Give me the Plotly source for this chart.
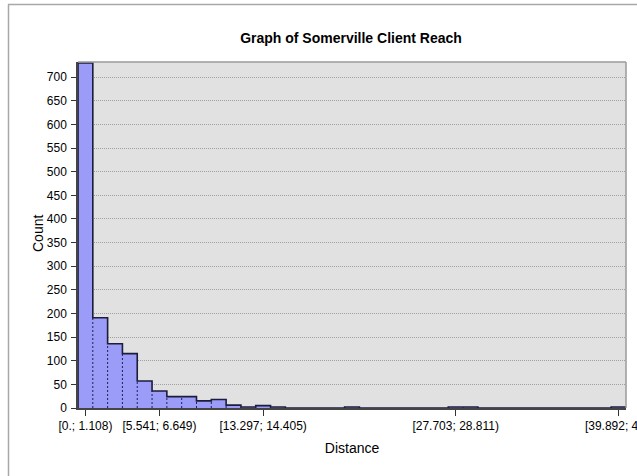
import plotly.graph_objects as go

# ---- data ----
bin_width = 1.1081
counts = [730, 191, 136, 115, 57, 36, 24, 24, 15, 18, 6, 2, 5, 2, 0, 0, 0, 0, 2,
          0, 0, 0, 0, 0, 0, 2, 2, 0, 0, 0, 0, 0, 0, 0, 0, 0, 2]
tick_bins = [0, 5, 12, 25, 36]
tick_labels = ["[0.; 1.108)", "[5.541; 6.649)", "[13.297; 14.405)",
               "[27.703; 28.811)", "[39.892; 41.)"]
title_text = "Graph of Somerville Client Reach"
x_title = "Distance"
y_title = "Count"

n = len(counts)
edges = [i * bin_width for i in range(n + 1)]
centers = [(edges[i] + edges[i + 1]) / 2 for i in range(n)]

# layout geometry (pixels)
W, H = 637, 476
L, R, T, B = 78, 11, 62, 68
pw, ph = W - L - R, H - T - B

def px2paper_x(x):
    return (x - L) / pw

def px2paper_y(y):
    return (H - B - y) / ph

FONT = "Liberation Sans Narrow, Arial Narrow, Liberation Sans, Arial, sans-serif"

fig = go.Figure()

fig.add_trace(go.Bar(
    x=centers, y=counts, width=bin_width,
    marker=dict(color="#9b9bf8", line=dict(width=0)),
    hoverinfo="x+y", showlegend=False,
))

# dotted internal separators
sx, sy = [], []
for i in range(1, n):
    h = min(counts[i - 1], counts[i])
    if h > 0:
        sx += [edges[i], edges[i], None]
        sy += [0, h, None]
fig.add_trace(go.Scatter(
    x=sx, y=sy, mode="lines",
    line=dict(color="#202050", width=1, dash="2px,2px"),
    hoverinfo="skip", showlegend=False,
))

# step outline
ox = [edges[0]] + edges[:n] + [edges[n]]
oy = [0] + counts + [0]
fig.add_trace(go.Scatter(
    x=ox, y=oy, mode="lines",
    line=dict(color="#1c1c3c", width=1.6, shape="hv"),
    hoverinfo="skip", showlegend=False,
))

fig.update_layout(
    width=W, height=H,
    margin=dict(l=L, r=R, t=T, b=B, pad=0, autoexpand=False),
    paper_bgcolor="white",
    plot_bgcolor="#e1e1e1",
    font=dict(family=FONT, size=12, color="black"),
    title=dict(text="<b>" + title_text + "</b>", x=px2paper_x(351), xref="paper",
               xanchor="center", y=1 - 38 / H, yanchor="middle",
               font=dict(family=FONT, size=14, color="black")),
    bargap=0,
    xaxis=dict(
        range=[edges[0], edges[n]],
        tickmode="array",
        tickvals=[centers[i] for i in tick_bins],
        ticktext=tick_labels,
        ticklabeloverflow="allow",
        ticks="outside", ticklen=6, tickcolor="#333333",
        showgrid=False, zeroline=False,
        showline=True, linecolor="#444444", linewidth=1.5,
        mirror=False, automargin=False,
        title=dict(text=x_title, standoff=11, font=dict(family=FONT, size=14)),
        tickfont=dict(family=FONT, size=12),
    ),
    yaxis=dict(
        range=[0, 732],
        tickmode="linear", tick0=0, dtick=50,
        ticks="outside", ticklen=5, tickcolor="#333333",
        ticklabelstandoff=2,
        showgrid=True, gridcolor="#a0a0a0", griddash="1px,1px", gridwidth=1,
        zeroline=False, automargin=False,
        showline=True, linecolor="#444444", linewidth=1.5,
        tickfont=dict(family=FONT, size=12),
    ),
    annotations=[
        dict(text=y_title, textangle=-90, xref="paper", yref="paper",
             x=px2paper_x(38), y=px2paper_y(234), xanchor="center", yanchor="middle",
             showarrow=False, font=dict(family=FONT, size=14, color="black")),
    ],
    shapes=[
        # plot-area border (top & right)
        dict(type="line", xref="paper", yref="paper", x0=0, x1=1, y0=1, y1=1,
             line=dict(color="#9a9a9a", width=1.5)),
        dict(type="line", xref="paper", yref="paper", x0=1, x1=1, y0=0, y1=1,
             line=dict(color="#9a9a9a", width=1.5)),
        # outer figure frame
        dict(type="line", xref="paper", yref="paper",
             x0=px2paper_x(8), x1=px2paper_x(W + 5),
             y0=px2paper_y(4.5), y1=px2paper_y(4.5),
             line=dict(color="#a8a8a8", width=1.5)),
        dict(type="line", xref="paper", yref="paper",
             x0=px2paper_x(8.5), x1=px2paper_x(8.5),
             y0=px2paper_y(4.5), y1=px2paper_y(H + 5),
             line=dict(color="#a8a8a8", width=1.5)),
    ],
)

fig.write_html(
    "out.html",
    config={"displayModeBar": False},
    post_script="document.body.style.margin='0';document.body.style.overflow='hidden';",
)
